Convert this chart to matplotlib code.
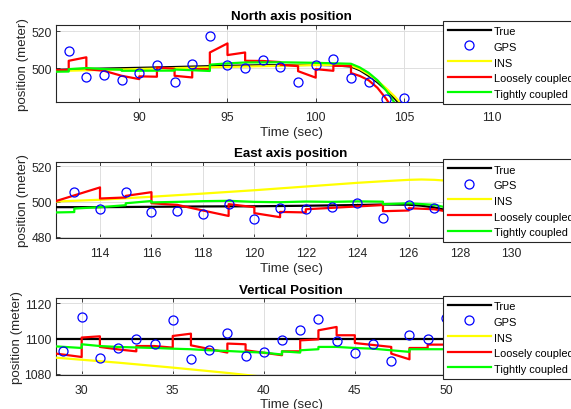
import matplotlib
matplotlib.use("Agg")
import matplotlib.pyplot as plt

plt.rcParams['font.family'] = ['Liberation Sans', 'DejaVu Sans']

# ---------------- North axis ----------------
north_xlim = (85.28, 111.92)
north_ylim = (482.0, 523.6)
north_xticks = [90, 95, 100, 105, 110]
north_yticks = [500, 520]

north_gps_t = list(range(86, 106))
north_gps = [509.5, 495.1, 496.2, 493.7, 497.5, 501.9, 492.4, 502.3, 517.3, 501.8,
             500.0, 504.5, 500.9, 492.8, 501.9, 504.9, 494.6, 492.8, 483.4, 483.8]

north_true_t = [85.3, 88, 91, 94, 97, 100, 101, 102, 102.5, 103, 103.5, 104, 104.5, 105, 105.5]
north_true = [499.2, 499.9, 500.5, 501.2, 501.7, 501.9, 501.7, 501.0, 499.0, 496.0, 492.5, 488.3, 483.5, 478.0, 472.0]

north_ins_t = [85.3, 88, 91, 94, 97, 100, 101, 102, 102.5, 103, 103.5, 104, 104.5, 105, 105.5]
north_ins = [498.6, 499.2, 499.9, 500.6, 501.2, 501.8, 501.9, 501.5, 499.6, 496.8, 493.3, 489.2, 484.6, 479.3, 473.0]

north_lc_t = [85.3, 86, 86, 87, 87, 88, 89, 90, 90, 91, 91, 92, 92, 93, 93, 94, 94, 95, 95,
              96, 96, 97, 98, 98, 99, 99, 100, 100, 101, 101, 102, 102, 102.5, 103, 103.5, 104, 104.5]
north_lc = [499.1, 499.1, 504.1, 506.0, 499.6, 498.7, 496.0, 494.2, 495.7, 495.5, 500.5, 499.8, 496.0,
            495.1, 499.6, 499.6, 508.6, 513.5, 507.2, 508.6, 504.1, 504.0, 503.4, 502.0, 501.2, 498.5,
            495.0, 499.6, 498.7, 501.4, 501.3, 497.5, 495.9, 493.6, 489.5, 483.5, 476.0]

north_tc_t = [85.3, 86, 86, 87, 88, 89, 89, 92, 92, 94, 94, 95, 96, 98, 100, 102, 102.5, 103, 103.5, 104, 104.5, 105]
north_tc = [498.2, 498.3, 499.6, 500.2, 499.6, 499.3, 498.7, 498.8, 499.4, 498.6, 502.0, 502.7, 503.2, 503.3,
            503.0, 502.5, 500.5, 497.6, 493.6, 488.0, 481.0, 474.0]

# ---------------- East axis ----------------
east_xlim = (112.29, 130.56)
east_ylim = (479.3, 522.6)
east_xticks = [114, 116, 118, 120, 122, 124, 126, 128, 130]
east_yticks = [480, 500, 520]

east_gps_t = list(range(113, 130))
east_gps = [505.3, 495.8, 505.3, 494.1, 494.7, 492.8, 498.6, 490.3, 496.4, 496.0,
            496.9, 498.9, 490.5, 498.3, 496.4, 489.0, 482.0]

east_true_t = [112.3, 114, 116, 118, 120, 122, 124, 125, 126, 126.5, 127, 127.5, 128, 128.5, 129, 129.5, 130, 130.6]
east_true = [496.8, 496.8, 497.0, 497.2, 497.3, 497.6, 498.0, 498.3, 498.2, 497.6, 496.6, 495.0,
             492.5, 489.0, 484.5, 479.0, 473.0, 466.0]

east_ins_t = [112.3, 114, 116, 118, 120, 122, 124, 125, 126, 126.5, 127, 127.5, 128, 129, 130, 130.6]
east_ins = [500.0, 501.0, 502.7, 504.5, 506.4, 508.5, 510.6, 511.5, 512.3, 512.5, 512.3, 511.8,
            510.5, 507.0, 502.0, 498.0]

east_lc_t = [112.3, 114, 114, 115, 115, 116, 116, 117, 118, 119, 119, 120, 120, 121, 121, 122, 122,
             123, 124, 125, 125, 126, 126, 127, 127.5, 128, 128.5, 129, 129.5]
east_lc = [500.3, 508.0, 501.7, 502.3, 503.2, 505.3, 499.0, 498.1, 494.9, 491.8, 498.5, 496.8, 493.4,
           491.1, 494.1, 493.8, 495.6, 496.4, 497.2, 498.0, 494.5, 494.9, 496.2, 495.6, 494.3,
           492.0, 487.5, 482.0, 475.0]

east_tc_t = [112.3, 113, 113, 114, 115, 115, 116, 116, 117, 118, 119, 120, 121, 122, 123, 124, 125, 125,
             126, 127, 127.5, 128, 128.5, 129, 129.5]
east_tc = [493.8, 494.0, 496.0, 496.8, 497.9, 499.0, 500.3, 499.5, 499.8, 500.2, 500.4, 499.8, 499.6,
           500.0, 499.8, 500.1, 499.9, 498.5, 499.0, 498.1, 496.5, 494.0, 490.0, 484.0, 476.0]

# ---------------- Vertical ----------------
vert_xlim = (28.59, 54.4)
vert_ylim = (1079.6, 1122.8)
vert_xticks = [30, 35, 40, 45, 50]
vert_yticks = [1080, 1100, 1120]

vert_gps_t = list(range(29, 51))
vert_gps = [1092.8, 1112.2, 1089.0, 1094.7, 1100.0, 1096.8, 1110.3, 1088.7, 1093.8, 1103.0, 1090.2,
            1092.7, 1099.2, 1105.1, 1111.1, 1098.5, 1092.1, 1096.8, 1087.2, 1101.9, 1100.0, 1111.6]

vert_true_t = [28.6, 54.4]
vert_true = [1100.0, 1100.0]

vert_ins_t = [28.6, 32, 35, 38, 40, 45, 50, 54.4]
vert_ins = [1089.2, 1086.4, 1083.6, 1080.6, 1078.4, 1072.5, 1066.0, 1060.0]

vert_lc_t = [28.6, 30, 30, 31, 31, 32, 33, 33, 34, 35, 35, 36, 36, 38, 38, 39, 39, 41, 41, 42, 42,
             43, 43, 44, 44, 45, 45, 47, 47, 48, 48, 49, 49, 50, 51, 51, 52, 53, 54.4]
vert_lc = [1091.5, 1089.6, 1100.6, 1101.3, 1095.3, 1093.9, 1092.8, 1095.8, 1095.8, 1094.9, 1101.5,
           1102.8, 1096.2, 1092.1, 1097.2, 1096.8, 1093.4, 1090.6, 1092.8, 1092.8, 1099.0, 1099.6,
           1104.7, 1106.6, 1101.9, 1101.9, 1097.5, 1095.3, 1091.5, 1088.3, 1094.7, 1094.7, 1096.6,
           1096.6, 1096.0, 1099.0, 1099.0, 1097.0, 1096.0]

vert_tc_t = [28.6, 30, 30, 31, 32, 33, 34, 35, 36, 37, 38, 39, 40, 41, 41, 42, 42, 43, 43, 44, 45,
             46, 47, 48, 48, 49, 50, 52, 54.4]
vert_tc = [1095.6, 1094.7, 1096.8, 1095.8, 1095.3, 1095.0, 1094.7, 1094.3, 1094.0, 1093.4, 1093.0,
           1092.5, 1092.1, 1091.0, 1092.8, 1092.1, 1093.4, 1094.0, 1095.3, 1095.3, 1094.7, 1094.3,
           1093.4, 1092.5, 1094.0, 1094.0, 1094.0, 1093.6, 1093.4]

legend_labels = ['True', 'GPS', 'INS', 'Loosely coupled', 'Tightly coupled']

AX_COLOR = '#262626'
GRID_COLOR = '#dedede'
LW = 1.6

fig = plt.figure(figsize=(5.71, 4.10), dpi=100)

panels = [
    dict(title='North axis position', rect=[0.0981, 0.7495, 0.8231, 0.1878], legend_top=0.9475,
         xlim=north_xlim, ylim=north_ylim, xticks=north_xticks, yticks=north_yticks,
         gps=(north_gps_t, north_gps), true=(north_true_t, north_true), ins=(north_ins_t, north_ins),
         lc=(north_lc_t, north_lc), tc=(north_tc_t, north_tc)),
    dict(title='East axis position', rect=[0.0981, 0.4171, 0.8231, 0.1861], legend_top=0.6102,
         xlim=east_xlim, ylim=east_ylim, xticks=east_xticks, yticks=east_yticks,
         gps=(east_gps_t, east_gps), true=(east_true_t, east_true), ins=(east_ins_t, east_ins),
         lc=(east_lc_t, east_lc), tc=(east_tc_t, east_tc)),
    dict(title='Vertical Position', rect=[0.0981, 0.0837, 0.8231, 0.1863], legend_top=0.2768,
         xlim=vert_xlim, ylim=vert_ylim, xticks=vert_xticks, yticks=vert_yticks,
         gps=(vert_gps_t, vert_gps), true=(vert_true_t, vert_true), ins=(vert_ins_t, vert_ins),
         lc=(vert_lc_t, vert_lc), tc=(vert_tc_t, vert_tc)),
]

for p in panels:
    ax = fig.add_axes(p['rect'])
    ax.plot(*p['true'], color='black', lw=LW, label=legend_labels[0], zorder=3)
    ax.plot(*p['gps'], linestyle='none', marker='o', markersize=6.5, markerfacecolor='none',
            markeredgecolor='#0000ff', markeredgewidth=0.9, label=legend_labels[1], zorder=4)
    ax.plot(*p['ins'], color='#ffff00', lw=LW, label=legend_labels[2], zorder=3)
    ax.plot(*p['lc'], color='#ff0000', lw=LW, label=legend_labels[3], zorder=3)
    ax.plot(*p['tc'], color='#00ff00', lw=LW, label=legend_labels[4], zorder=3)

    ax.set_xlim(p['xlim'])
    ax.set_ylim(p['ylim'])
    ax.set_xticks(p['xticks'])
    ax.set_yticks(p['yticks'])
    ax.grid(True, color=GRID_COLOR, linewidth=0.7)
    ax.set_axisbelow(True)
    for s in ax.spines.values():
        s.set_color(AX_COLOR)
        s.set_linewidth(0.8)
    ax.tick_params(direction='in', length=3, width=0.6, colors=AX_COLOR,
                   labelsize=8.7, top=True, right=True)
    ax.tick_params(axis='x', pad=6.5)
    ax.tick_params(axis='y', pad=3)
    ax.set_title(p['title'], fontsize=9.6, fontweight='bold', pad=4, color='black')
    ax.set_xlabel('Time (sec)', fontsize=9.6, color=AX_COLOR, labelpad=2)
    ax.set_ylabel('position (meter)', fontsize=9.6, color=AX_COLOR, labelpad=1.5)

    leg = ax.legend(loc='upper left', bbox_to_anchor=(0.7764, p['legend_top']),
                    bbox_transform=fig.transFigure, borderaxespad=0, fontsize=7.9,
                    frameon=True, fancybox=False, framealpha=1, edgecolor=AX_COLOR,
                    handlelength=3.9, handletextpad=0.3, labelspacing=0.38,
                    handleheight=1.24, borderpad=0.4)
    leg.get_frame().set_linewidth(0.8)
    leg.set_zorder(10)

fig.savefig('out.png', dpi=100)
